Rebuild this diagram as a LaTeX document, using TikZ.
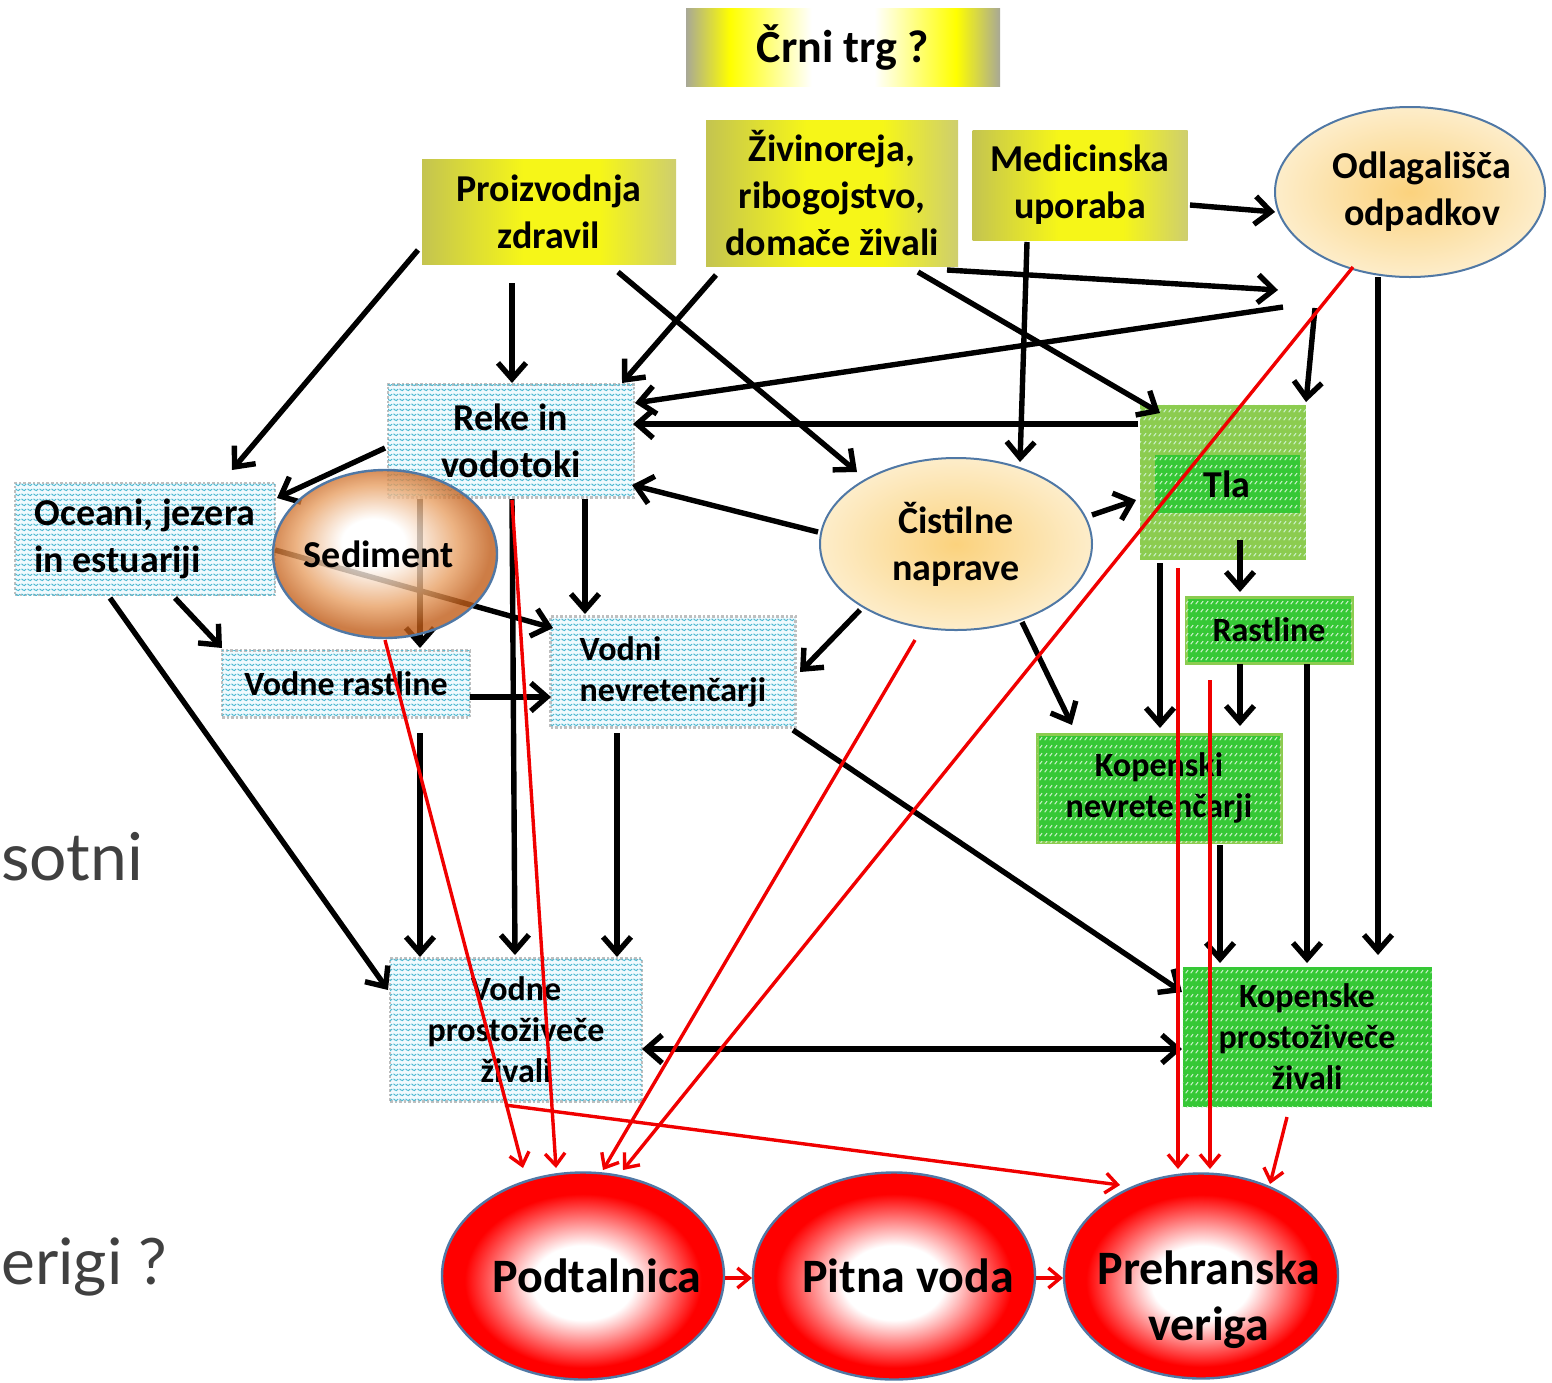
\documentclass[tikz,border=0pt]{standalone}
\usepackage{fontspec}
\setmainfont{Carlito}
\newfontfamily\bgfont{Lato}
\usetikzlibrary{arrows.meta,calc,patterns,shapes.geometric}

\newcommand{\fsA}{\fontsize{19}{23.5}\selectfont}
\newcommand{\fsB}{\fontsize{17}{20.5}\selectfont}
\newcommand{\fsC}{\fontsize{23}{28}\selectfont}
\newcommand{\fsD}{\fontsize{24}{28}\selectfont}

\definecolor{zigc}{rgb}{0.30,0.72,0.82}
\definecolor{gdark}{RGB}{54,200,54}
\definecolor{glight}{RGB}{140,204,80}
\definecolor{ebord}{RGB}{80,120,165}
\definecolor{sedE}{RGB}{192,92,24}
\definecolor{sedM}{RGB}{232,160,100}
\definecolor{orC}{RGB}{251,210,125}
\definecolor{orE}{RGB}{253,237,202}
\definecolor{ygA}{RGB}{196,196,80}
\definecolor{ygB}{RGB}{246,246,24}
\definecolor{ygC}{RGB}{206,206,110}
\definecolor{trgG}{RGB}{168,168,150}
\definecolor{bgtext}{RGB}{64,64,64}
\definecolor{redA}{RGB}{240,0,0}

\pgfdeclareradialshading{redball}{\pgfpoint{0bp}{-2bp}}{color(0bp)=(white); color(9bp)=(white); color(21bp)=(red); color(25bp)=(red); color(50bp)=(red)}
\pgfdeclareradialshading{sedsh}{\pgfpoint{-3bp}{4bp}}{color(0bp)=(white); color(7bp)=(white); color(18bp)=(sedM); color(25bp)=(sedE); color(50bp)=(sedE)}
\pgfdeclareradialshading{orsh}{\pgfpoint{0bp}{0bp}}{color(0bp)=(orC); color(25bp)=(orE); color(50bp)=(orE)}
\pgfdeclarehorizontalshading{yboxsh}{100bp}{color(0bp)=(ygA); color(25bp)=(ygA); color(45bp)=(ygB); color(60bp)=(ygB); color(75bp)=(ygC); color(100bp)=(ygC)}
\pgfdeclarehorizontalshading{trgsh}{100bp}{color(0bp)=(trgG); color(25bp)=(trgG); color(32bp)=(yellow); color(45bp)=(white); color(55bp)=(white); color(68bp)=(yellow); color(75bp)=(trgG); color(100bp)=(trgG)}

\pgfdeclarepatternformonly{zigz}{\pgfqpoint{-0.3pt}{-0.3pt}}{\pgfqpoint{3.3pt}{2.8pt}}{\pgfqpoint{3pt}{2.5pt}}{%
  \pgfsetlinewidth{0.5pt}%
  \pgfpathmoveto{\pgfqpoint{0pt}{0.6pt}}%
  \pgfpathlineto{\pgfqpoint{1.5pt}{1.8pt}}%
  \pgfpathlineto{\pgfqpoint{3pt}{0.6pt}}%
  \pgfusepath{stroke}}
\pgfdeclarepatternformonly{ghatch}{\pgfqpoint{0pt}{0pt}}{\pgfqpoint{2.6pt}{4pt}}{\pgfqpoint{2.6pt}{4pt}}{%
  \pgfsetlinewidth{0.55pt}%
  \pgfpathmoveto{\pgfqpoint{0.4pt}{1.0pt}}%
  \pgfpathlineto{\pgfqpoint{1.8pt}{2.7pt}}%
  \pgfusepath{stroke}}

\begin{document}
\begin{tikzpicture}[x=0.5pt,y=-0.5pt,
  trgbox/.style={rectangle, inner sep=0pt, shading=trgsh, font=\bfseries\fsC},
  ybox/.style={rectangle, inner sep=0pt, shading=yboxsh, align=center, font=\bfseries\fsA},
  bluebox/.style={rectangle, inner sep=0pt, fill=cyan!6, draw=gray!50, densely dotted, line width=1.3pt,
    postaction={pattern=zigz, pattern color=zigc}, align=center, font=\bfseries\fsA},
  gbox/.style={rectangle, inner sep=0pt, fill=gdark, postaction={pattern=ghatch, pattern color=white!75!gdark},
    align=center, font=\bfseries\fsB},
  orell/.style={ellipse, inner xsep=-14pt, inner ysep=0pt, shading=orsh, draw=ebord, line width=1pt,
    align=center, font=\bfseries\fsA},
  redell/.style={ellipse, inner xsep=-16pt, inner ysep=0pt, shading=redball, draw=ebord, line width=1.2pt,
    align=center, font=\bfseries\fsD},
  blk/.style={line width=2.7pt, -{Straight Barb[length=8pt,width=14pt]}},
  rd/.style={draw=redA, line width=1.7pt, -{Straight Barb[length=6pt,width=10pt]}}
]
\useasboundingbox (0,0) rectangle (1552,1382);

% background slide text
\node[font=\bgfont\fontsize{33}{40}\selectfont, text=bgtext, anchor=base west, inner sep=0pt] (bga) at (1,880) {sotni};
\node[font=\bgfont\fontsize{32}{40}\selectfont, text=bgtext, anchor=base west, inner sep=0pt] (bgb) at (1,1284) {erigi ?};

% sources
\node[trgbox, minimum width=157pt, minimum height=39pt] (trg) at (843,47) {Črni trg ?};
\node[ybox, minimum width=127pt, minimum height=52.5pt] (proiz) at (549,212) {Proizvodnja\\zdravil};
\node[ybox, minimum width=126pt, minimum height=73pt] (zivi) at (832,193) {Živinoreja,\\ribogojstvo,\\domače živali};
\node[ybox, minimum width=107.5pt, minimum height=55pt] (med) at (1080,185) {Medicinska\\uporaba};
\node[orell, minimum width=135pt, minimum height=85pt] (odl) at (1410,192) {\hspace*{12pt}Odlagališča\\\hspace*{12pt}odpadkov};

% aquatic
\node[bluebox, minimum width=123pt, minimum height=56.5pt] (reke) at (511,441) {Reke in\\vodotoki};
\node[bluebox, align=left, minimum width=130pt, minimum height=56pt] (ocean) at (145,539) {Oceani, jezera\\in estuariji};
\node[bluebox, font=\bfseries\fsB, minimum width=124pt, minimum height=33.5pt] (vrast) at (346,684) {Vodne rastline};
\node[bluebox, font=\bfseries\fsB, align=left, minimum width=122.5pt, minimum height=55.5pt] (vnev) at (673,672) {Vodni\\nevretenčarji};
\node[bluebox, font=\bfseries\fsB, minimum width=126pt, minimum height=71.5pt] (vziv) at (516,1030) {Vodne\\prostoživeče\\živali};

\node[orell, minimum width=136pt, minimum height=86pt] (cist) at (956,544) {Čistilne\\naprave};

% terrestrial
\node[gbox, fill=glight, minimum width=83pt, minimum height=77.5pt] (tla) at (1223,482) {};
\node[gbox, font=\bfseries\fsA, minimum width=72.5pt, minimum height=29pt] (tlain) at (1227,484) {Tla};
\node[gbox, draw=glight, line width=1.5pt, minimum width=83pt, minimum height=33pt] (rast) at (1269,630) {Rastline};
\node[gbox, draw=glight, line width=1.5pt, minimum width=122pt, minimum height=54pt] (knev) at (1159,788) {Kopenski\\nevretenčarji};
\node[gbox, minimum width=124.5pt, minimum height=70pt] (kziv) at (1307,1037) {Kopenske\\prostoživeče\\živali};

% free ends
\coordinate (f1) at (1278,290);
\coordinate (f2) at (1283,307);
\coordinate (f3) at (1315,308);

% black arrows
\draw[blk] ($(proiz)+(-131,38)$) -- ($(ocean)+(87,-69)$);
\draw[blk] ($(proiz)+(-37,71)$) -- ($(reke)+(1,-58)$);
\draw[blk] ($(proiz)+(69,60)$) -- ($(cist)+(-99,-72)$);
\draw[blk] ($(zivi)+(-116,82)$) -- ($(reke)+(111,-58)$);
\draw[blk] ($(zivi)+(115,77)$) -- (f1);
\draw[blk] (f2) -- ($(reke)+(124,-38)$);
\draw[blk] ($(zivi)+(86,79)$) -- ($(tla)+(-63,-69)$);
\draw[blk] ($(med)+(-53,57)$) -- ($(cist)+(64,-82)$);
\draw[blk] ($(med)+(110,20)$) -- ($(odl)+(-135,20)$);
\draw[blk] (f3) -- ($(tla)+(83,-80)$);
\draw[blk] ($(odl)+(-32,85)$) -- ($(kziv)+(71,-82)$);
\draw[blk] ($(tla)+(-85,-58)$) -- ($(reke)+(122,-17)$);
\draw[blk] ($(cist)+(-138,-12)$) -- ($(reke)+(121,44)$);
\draw[blk] ($(cist)+(136,-29)$) -- ($(tla)+(-87,18)$);
\draw[blk] ($(cist)+(-96,66)$) -- ($(vnev)+(127,0)$);
\draw[blk] ($(cist)+(66,78)$) -- ($(knev)+(-87,-63)$);
\draw[blk] ($(reke)+(-126,7)$) -- ($(ocean)+(132,-41)$);
\draw[blk] ($(reke)+(74,58)$) -- ($(vnev)+(-88,-58)$);
\draw[blk] ($(reke)+(-91,58)$) -- ($(vrast)+(74,-36)$);
\draw[blk] ($(ocean)+(130,11)$) -- ($(vnev)+(-120,-44)$);
\draw[blk] ($(reke)+(1,58)$) -- ($(vziv)+(-1,-75)$);
\draw[blk] ($(ocean)+(30,59)$) -- ($(vrast)+(-124,-36)$);
\draw[blk] ($(ocean)+(-35,59)$) -- ($(vziv)+(-128,-40)$);
\draw[blk] ($(vrast)+(124,13)$) -- ($(vnev)+(-122,25)$);
\draw[blk] ($(vrast)+(74,49)$) -- ($(vziv)+(-96,-73)$);
\draw[blk] ($(vnev)+(-56,61)$) -- ($(vziv)+(101,-73)$);
\draw[blk] ($(vnev)+(120,58)$) -- ($(kziv)+(-125,-45)$);
\draw[line width=2.7pt, {Straight Barb[length=8pt,width=14pt]}-{Straight Barb[length=8pt,width=14pt]}] ($(vziv)+(126,19)$) -- ($(kziv)+(-125,12)$);
\draw[blk] ($(tla)+(-63,81)$) -- ($(knev)+(1,-60)$);
\draw[blk] ($(tla)+(17,58)$) -- ($(rast)+(-29,-38)$);
\draw[blk] ($(rast)+(-29,34)$) -- ($(knev)+(81,-62)$);
\draw[blk] ($(rast)+(38,34)$) -- ($(kziv)+(0,-74)$);
\draw[blk] ($(knev)+(61,57)$) -- ($(kziv)+(-87,-74)$);

% sediment (semi-transparent over arrows)
\node[ellipse, inner xsep=-10pt, inner ysep=0pt, minimum width=112pt, minimum height=84pt, shading=sedsh,
  draw=ebord, line width=1.2pt, fill opacity=0.8, text opacity=1, font=\bfseries\fsA] (sed) at (385,554) {Sediment\hspace*{6pt}};

% receptors
\node[redell, minimum width=141pt, minimum height=103.5pt] (podt) at (583,1276) {\hspace*{14pt}Podtalnica};
\node[redell, minimum width=141pt, minimum height=103.5pt] (pitna) at (894,1276) {\hspace*{14pt}Pitna voda};
\node[redell, minimum width=137pt, minimum height=102.5pt] (preh) at (1201,1276) {};
\node[font=\bfseries\fsD, align=center, inner sep=0pt] (prehtxt) at (1209,1300) {Prehranska\\veriga};

% red arrows
\draw[rd] ($(sed)+(0,86)$) -- ($(podt)+(-60,-108)$);
\draw[rd] ($(reke)+(1,59)$) -- ($(podt)+(-27,-108)$);
\draw[rd] ($(cist)+(-41,96)$) -- ($(podt)+(20,-106)$);
\draw[rd] ($(odl)+(-57,75)$) -- ($(podt)+(40,-106)$);
\draw[rd] ($(vziv)+(-11,75)$) -- ($(preh)+(-81,-91)$);
\draw[rd] ($(tla)+(-45,86)$) -- ($(preh)+(-23,-107)$);
\draw[rd] ($(rast)+(-59,50)$) -- ($(preh)+(9,-107)$);
\draw[rd] ($(kziv)+(-20,80)$) -- ($(preh)+(69,-92)$);
\draw[rd] ($(podt)+(142,2)$) -- ($(pitna)+(-142,2)$);
\draw[rd] ($(pitna)+(142,2)$) -- ($(preh)+(-138,2)$);
\end{tikzpicture}
\end{document}
